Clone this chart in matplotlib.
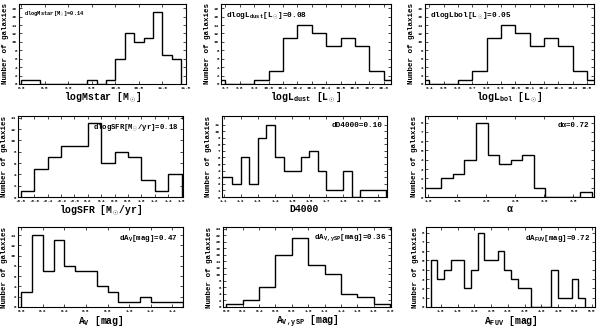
import numpy as np
import matplotlib
matplotlib.use("Agg")
import matplotlib.pyplot as plt

plt.rcParams["font.family"] = ["Liberation Mono", "DejaVu Sans"]
plt.rcParams["font.weight"] = "bold"
plt.rcParams["mathtext.fontset"] = "custom"
plt.rcParams["mathtext.rm"] = "Liberation Mono:bold"
plt.rcParams["mathtext.it"] = "Liberation Mono:bold"
plt.rcParams["mathtext.bf"] = "Liberation Mono:bold"

# histogram data (bin edges + counts)
mstar_edges = np.round(np.arange(8.0, 11.41, 0.2), 2)
mstar_counts = [1, 1, 0, 0, 0, 0, 0, 1, 0, 1, 6, 12, 10, 11, 17, 7, 6]

ldust_edges = np.round(np.arange(9.6, 10.91, 0.1), 2)
ldust_counts = [1, 0, 0, 1, 3, 11, 14, 12, 9, 11, 9, 3, 1]

lbol_edges = np.round(np.arange(9.3, 10.61, 0.1), 2)
lbol_counts = [1, 0, 0, 1, 3, 11, 14, 12, 9, 11, 9, 3, 1]

sfr_edges = np.round(np.arange(-0.8, 1.61, 0.2), 2)
sfr_counts = [1, 5, 7, 9, 9, 13, 6, 8, 7, 3, 1, 4]

d4000_edges = np.round(np.arange(1.05, 2.051, 0.05), 3)
d4000_counts = [3, 3, 2, 6, 2, 9, 11, 6, 4, 4, 6, 7, 4, 1, 1, 4, 0, 1, 1, 1]

alpha_edges = np.round(np.arange(0.82, 3.83, 0.2), 2)
alpha_counts = [1, 1, 2, 2.5, 4, 8, 4.5, 3.5, 4, 4.5, 1, 0, 0, 0, 0.5]

av_edges = np.round(np.arange(0.0, 1.51, 0.1), 2)
av_counts = [3, 14, 7, 13, 8, 7, 7, 4, 3, 1, 1, 2, 1, 1, 1]

avysp_edges = np.round(np.arange(0.0, 2.01, 0.2), 2)
avysp_counts = [1, 2, 6, 16, 21, 13, 10, 4, 3, 1]

afuv_edges = np.round(np.arange(0.7, 5.31, 0.2), 2)
afuv_counts = [5, 3, 4, 5, 5, 2, 4, 8, 5, 5, 6, 4, 3, 2, 2, 0, 0, 0, 4, 1, 1, 3, 1]

panels = [
    dict(e=mstar_edges, c=mstar_counts, xl="logMstar [M$_\\odot$]",
         txt="dlogMstar[M$_\\odot$]=0.14", loc="left", ts=3.9,
         xlim=(7.95, 11.48), xt=np.arange(8.0, 11.51, 0.5), ylim=(0, 19), yt=np.arange(0, 19, 2)),
    dict(e=ldust_edges, c=ldust_counts, xl="logL$_{dust}$ [L$_\\odot$]",
         txt="dlogL$_{dust}$[L$_\\odot$]=0.08", loc="left", ts=5.6,
         xlim=(9.67, 10.85), xt=np.arange(9.7, 10.81, 0.1), ylim=(0, 19), yt=np.arange(0, 19, 2)),
    dict(e=lbol_edges, c=lbol_counts, xl="logL$_{bol}$ [L$_\\odot$]",
         txt="dlogLbol[L$_\\odot$]=0.05", loc="left", ts=5.6,
         xlim=(9.37, 10.55), xt=np.arange(9.4, 10.51, 0.1), ylim=(0, 19), yt=np.arange(0, 19, 2)),
    dict(e=sfr_edges, c=sfr_counts, xl="logSFR [M$_\\odot$/yr]",
         txt="dlogSFR[M$_\\odot$/yr]=0.18", loc="right", ts=5.2,
         xlim=(-0.84, 1.62), xt=np.arange(-0.8, 1.61, 0.2), ylim=(0, 14.3), yt=np.arange(0, 15, 2)),
    dict(e=d4000_edges, c=d4000_counts, xl="D4000",
         txt="dD4000=0.10", loc="right", ts=5.6,
         xlim=(1.09, 2.055), xt=np.arange(1.1, 2.01, 0.1), ylim=(0, 12.3), yt=np.arange(0, 12, 1)),
    dict(e=alpha_edges, c=alpha_counts, xl="\u03b1",
         txt="d\u03b1=0.72", loc="right", ts=5.4,
         xlim=(0.94, 3.86), xt=np.arange(1.0, 3.51, 0.5), ylim=(0, 8.7), yt=np.arange(0, 9, 1)),
    dict(e=av_edges, c=av_counts, xl="A$_V$ [mag]",
         txt="dA$_V$[mag]=0.47", loc="right", ts=5.4,
         xlim=(-0.03, 1.5), xt=np.arange(0.0, 1.41, 0.2), ylim=(0, 15.6), yt=np.arange(0, 15, 2)),
    dict(e=avysp_edges, c=avysp_counts, xl="A$_{V,ySP}$ [mag]",
         txt="dA$_{V,ySP}$[mag]=0.36", loc="right", ts=5.4,
         xlim=(-0.04, 2.01), xt=np.arange(0.0, 2.01, 0.2), ylim=(0, 24.5), yt=np.arange(0, 25, 2)),
    dict(e=afuv_edges, c=afuv_counts, xl="A$_{FUV}$ [mag]",
         txt="dA$_{FUV}$[mag]=0.72", loc="right", ts=5.4,
         xlim=(0.56, 5.6), xt=np.arange(1.0, 5.51, 0.5), ylim=(0, 8.6), yt=np.arange(0, 9, 1)),
]

W, H = 600, 329
lefts = [[19, 221, 425], [18, 222, 425], [18, 223, 426]]
rights = [[186, 391, 594], [183, 387, 594], [183, 391, 595]]
tops = [4, 116, 227]
bots = [84, 197, 307]

fig = plt.figure(figsize=(6.0, 3.29), dpi=100)

for i, p in enumerate(panels):
    r, c = divmod(i, 3)
    l, rr = lefts[r][c], rights[r][c]
    t, b = tops[r], bots[r]
    ax = fig.add_axes([l / W, 1 - b / H, (rr - l) / W, (b - t) / H])
    ax.stairs(p["c"], p["e"], color="black", lw=1.0, baseline=0)
    ax.set_xlim(p["xlim"])
    ax.set_ylim(p["ylim"])
    ax.set_xticks(p["xt"])
    ax.set_yticks(p["yt"])
    ax.set_xticklabels([f"{v:.1f}" for v in p["xt"]])
    ax.set_yticklabels([f"{v:g}" for v in p["yt"]])
    ax.tick_params(direction="in", top=True, right=True, length=2, width=0.5,
                   labelsize=3, pad=1.5)
    for s in ax.spines.values():
        s.set_linewidth(0.8)
    ax.set_xlabel(p["xl"], fontsize=7, fontweight="bold", labelpad=0.5)
    ax.set_ylabel("Number of galaxies", fontsize=5.4, fontweight="bold", labelpad=2)
    if p["loc"] == "left":
        ax.text(0.03, 0.93, p["txt"], transform=ax.transAxes, ha="left", va="top",
                fontsize=p["ts"], fontweight="bold")
    else:
        ax.text(0.97, 0.93, p["txt"], transform=ax.transAxes, ha="right", va="top",
                fontsize=p["ts"], fontweight="bold")

fig.savefig("out.png", dpi=100)
